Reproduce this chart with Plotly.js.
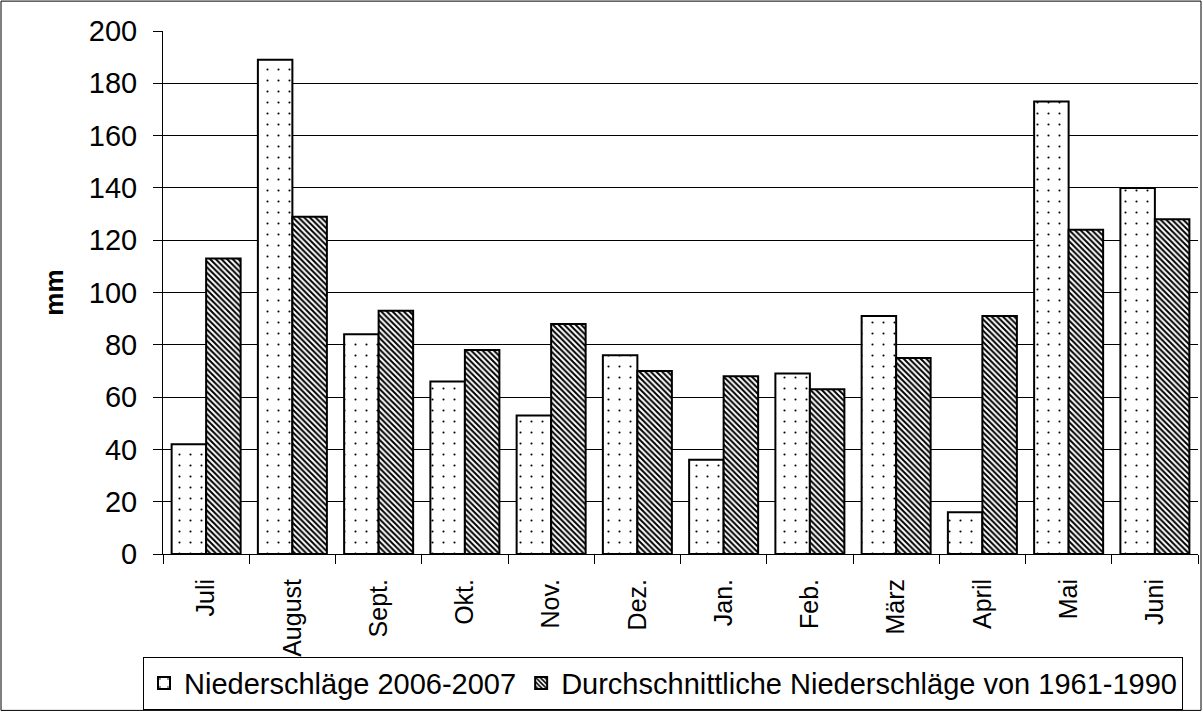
<!DOCTYPE html>
<html>
<head>
<meta charset="utf-8">
<script src="https://cdn.plot.ly/plotly-3.0.1.min.js"></script>
<style>
  html, body { margin: 0; padding: 0; background: #fff; }
  #chart { width: 1203px; height: 715px; }
</style>
</head>
<body>
<div id="chart"></div>
<script>
const months = ['Juli','August','Sept.','Okt.','Nov.','Dez.','Jan.','Feb.','März','April','Mai','Juni'];
const niederschlaege2006 = [42, 189, 84, 66, 53, 76, 36, 69, 91, 16, 173, 140];
const durchschnitt19611990 = [113, 129, 93, 78, 88, 70, 68, 63, 75, 91, 124, 128];
const seriesNames = ['Niederschläge 2006-2007', 'Durchschnittliche Niederschläge von 1961-1990'];
const yTicks = [0, 20, 40, 60, 80, 100, 120, 140, 160, 180, 200];

const FONT = 'Liberation Sans, Arial, sans-serif';

const traces = [
  {
    type: 'bar',
    name: seriesNames[0],
    x: months,
    y: niederschlaege2006,
    marker: {
      color: '#ffffff',
      line: { color: '#000000', width: 2 },
      pattern: { shape: '.', fgcolor: '#000000', bgcolor: '#ffffff', size: 11, solidity: 0.03 }
    },
    hoverinfo: 'x+y'
  },
  {
    type: 'bar',
    name: seriesNames[1],
    x: months,
    y: durchschnitt19611990,
    marker: {
      color: '#ffffff',
      line: { color: '#000000', width: 2 },
      pattern: { shape: '\\', fgcolor: '#000000', bgcolor: '#ffffff', size: 4, solidity: 0.5 }
    },
    hoverinfo: 'x+y'
  }
];

const L = 163, R = 1198, T = 31, B = 556, W = 1203, H = 715;
const pw = R - L, ph = B - T;

const layout = {
  width: W,
  height: H,
  margin: { l: L, r: W - R, t: T, b: H - B, pad: 0 },
  paper_bgcolor: '#ffffff',
  plot_bgcolor: '#ffffff',
  barmode: 'group',
  bargap: 0.2,
  bargroupgap: 0,
  font: { family: FONT, color: '#000000' },
  showlegend: true,
  legend: {
    orientation: 'h',
    x: (143 - L) / pw,
    xanchor: 'left',
    y: -(659 - B) / ph,
    yanchor: 'top',
    bordercolor: '#000000',
    borderwidth: 1,
    bgcolor: '#ffffff',
    font: { family: FONT, size: 29, color: '#000000' },
    itemwidth: 30,
    tracegroupgap: 0
  },
  xaxis: {
    type: 'category',
    tickangle: -90,
    tickson: 'boundaries',
    ticks: 'outside',
    ticklen: 9,
    tickwidth: 1,
    tickcolor: '#000000',
    showline: true,
    linecolor: '#000000',
    linewidth: 1,
    showgrid: false,
    zeroline: false,
    tickfont: { family: FONT, size: 25, color: '#000000' },
    ticklabelstandoff: 14,
    fixedrange: true
  },
  yaxis: {
    range: [0, 200],
    tickvals: yTicks,
    ticktext: yTicks.map(String),
    ticks: 'outside',
    ticklen: 9,
    tickwidth: 1,
    tickcolor: '#000000',
    showline: true,
    linecolor: '#000000',
    linewidth: 1,
    showgrid: true,
    gridcolor: '#000000',
    gridwidth: 1,
    zeroline: false,
    tickfont: { family: FONT, size: 29, color: '#000000' },
    ticklabelstandoff: 10,
    title: { text: '<b>mm</b>', font: { family: FONT, size: 26, color: '#000000' }, standoff: 17 },
    fixedrange: true
  },
  shapes: [
    {
      type: 'rect', xref: 'paper', yref: 'paper', layer: 'above',
      x0: (1 - L) / pw, x1: (W - 2 - L) / pw,
      y0: -(H - 2 - B) / ph, y1: (B - 1) / ph,
      line: { color: '#000000', width: 1 }, fillcolor: 'rgba(0,0,0,0)'
    }
  ]
};

Plotly.newPlot('chart', traces, layout, { displayModeBar: false, staticPlot: true });
</script>
</body>
</html>
